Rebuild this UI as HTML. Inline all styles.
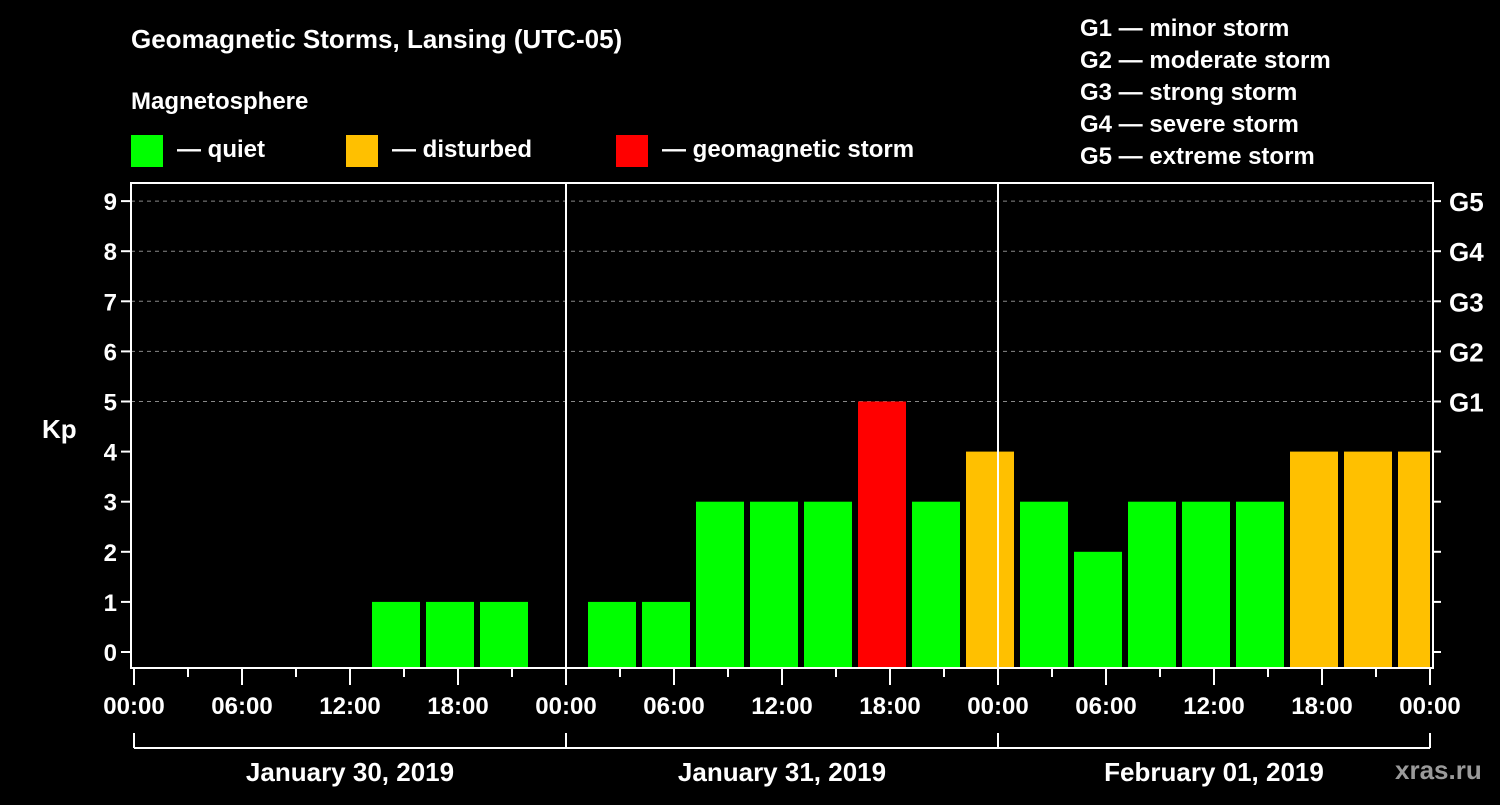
<!DOCTYPE html>
<html><head><meta charset="utf-8"><style>
body{margin:0;background:#000;width:1500px;height:800px;overflow:hidden}
svg text{font-family:"Liberation Sans",Arial,sans-serif;font-weight:bold;fill:#fff}
</style></head><body>
<svg id="c" width="1500" height="800">
<text x="131" y="48" font-size="26">Geomagnetic Storms, Lansing (UTC-05)</text>
<text x="131" y="109" font-size="24">Magnetosphere</text>
<g><rect x="131" y="135" width="32" height="32" fill="#00ff00"/><text x="177" y="157" font-size="24">— quiet</text></g>
<g><rect x="346" y="135" width="32" height="32" fill="#ffc000"/><text x="392" y="157" font-size="24">— disturbed</text></g>
<g><rect x="616" y="135" width="32" height="32" fill="#ff0000"/><text x="662" y="157" font-size="24">— geomagnetic storm</text></g>
<g font-size="24">
<text x="1080" y="36">G1 — minor storm</text>
<text x="1080" y="68">G2 — moderate storm</text>
<text x="1080" y="100">G3 — strong storm</text>
<text x="1080" y="132">G4 — severe storm</text>
<text x="1080" y="164">G5 — extreme storm</text>
</g>
<text x="42" y="438" font-size="26">Kp</text>
<text x="1395" y="779" font-size="26" fill="#999" style="fill:#9a9a9a">xras.ru</text>
<g id="plot"></g>
</svg>
<script>
const startHours=[13,16,19,22,25,28,31,34,37,40,43,46,49,52,55,58,61,64,67,70];
const kpValues=[1,1,1,null,1,1,3,3,3,5,3,4,3,2,3,3,3,4,4,4];
const yTicks=[0,1,2,3,4,5,6,7,8,9];
const gLabels=["G1","G2","G3","G4","G5"];
const xTickLabels=["00:00","06:00","12:00","18:00","00:00","06:00","12:00","18:00","00:00","06:00","12:00","18:00","00:00"];
const dayLabels=["January 30, 2019","January 31, 2019","February 01, 2019"];

const L=131,R=1433,T=183,B=668,X0=134,PXH=18;
const x=h=>X0+h*PXH;
const y=v=>652-v*50.1;
const NS="http://www.w3.org/2000/svg";
const g=document.getElementById('plot');
function mk(t,a){const e=document.createElementNS(NS,t);for(const k in a)e.setAttribute(k,a[k]);g.appendChild(e);return e;}
const W="#fff";
// grid
for(let v=5;v<=9;v++){const e=mk('line',{x1:L,x2:R,y1:y(v),y2:y(v),stroke:'#888','stroke-dasharray':'4,4','stroke-width':1});

}
// bars
startHours.forEach((h,i)=>{const v=kpValues[i];if(v==null)return;
const x1=Math.max(x(h)+4,L),x2=Math.min(x(h+3)-2,R-3);
const c=v>=5?'#ff0000':v>=4?'#ffc000':'#00ff00';
const r=mk('rect',{x:x1,y:y(v),width:x2-x1,height:B-1-y(v),fill:c});

});
// frame
const f=mk('rect',{x:L,y:T,width:R-L,height:B-T,fill:'none',stroke:W,'stroke-width':2});


// day separators
[24,48].forEach(h=>{const e=mk('line',{x1:x(h),x2:x(h),y1:T,y2:B,stroke:W,'stroke-width':2});

});
// y ticks
yTicks.forEach(v=>{mk('line',{x1:L-10,x2:L,y1:y(v),y2:y(v),stroke:W,'stroke-width':2});
mk('line',{x1:R,x2:R+8,y1:y(v),y2:y(v),stroke:W,'stroke-width':2});
const t=mk('text',{x:L-14,y:y(v)+9,'font-size':24,'text-anchor':'end'});t.textContent=v;

});
gLabels.forEach((s,i)=>{const t=mk('text',{x:1449,y:y(5+i)+10,'font-size':26});t.textContent=s;

});
// x ticks
for(let h=0;h<=72;h+=3){const long=h%6==0;mk('line',{x1:x(h),x2:x(h),y1:B,y2:long?B+17:B+9,stroke:W,'stroke-width':2});}
xTickLabels.forEach((s,i)=>{const t=mk('text',{x:x(i*6),y:714,'font-size':24,'text-anchor':'middle'});t.textContent=s;

});
// date bracket
mk('line',{x1:x(0),x2:x(72),y1:748,y2:748,stroke:W,'stroke-width':2});
[0,24,48,72].forEach(h=>mk('line',{x1:x(h),x2:x(h),y1:733,y2:748,stroke:W,'stroke-width':2}));
dayLabels.forEach((s,i)=>{const t=mk('text',{x:x(i*24+12),y:781,'font-size':26,'text-anchor':'middle'});t.textContent=s;

});
</script>
</body></html>
